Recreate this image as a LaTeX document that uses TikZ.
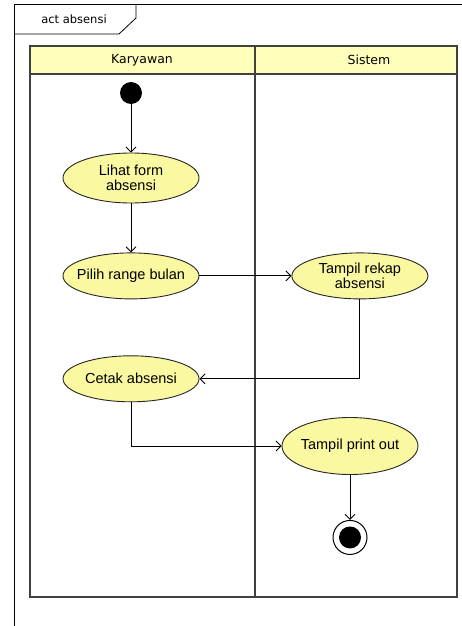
\documentclass[tikz,border=0pt]{standalone}
\usepackage{fontspec}
\setmainfont{Liberation Sans}
\newfontfamily\lanefont{DejaVu Sans}
\usetikzlibrary{arrows.meta,positioning,shapes.geometric}
\definecolor{actfill}{RGB}{250,248,160}
\definecolor{headfill}{RGB}{255,255,188}

\begin{document}
\begin{tikzpicture}[
  x=1pt, y=-1pt,
  action/.style={draw=black!85, fill=actfill, ellipse, line width=0.9pt, align=center, minimum width=136pt, minimum height=46pt, inner xsep=-14pt, inner ysep=0pt, font=\fontsize{14.5}{15}\selectfont},
  lane/.style={draw=black!75, line width=1.3pt},
  lanetext/.style={font=\lanefont\fontsize{12.5}{14}\selectfont},
  startnode/.style={circle, fill=black, minimum size=22pt, inner sep=0pt},
  stopnode/.style={circle, draw, fill=white, line width=1pt, minimum size=34pt, inner sep=0pt},
  arrow/.style={-{Straight Barb[length=5pt,width=10pt]}, line width=0.9pt}
]
\useasboundingbox (0,0) rectangle (462,626);

% frame and tag
\draw[line width=1pt] (14,626) -- (14,5) -- (462,5);
\draw[line width=0.8pt] (14,34) -- (119,34) -- (136,18) -- (136,5);
\node[lanetext, font=\lanefont\fontsize{11.5}{13}\selectfont] (tag) at (74,19) {act absensi};

% swimlanes
\filldraw[lane, fill=headfill] (30,46) rectangle (457,74);
\draw[lane] (30,46) rectangle (457,597);
\draw[lane] (255,46) -- (255,597);
\node[lanetext] (karyawan) at (142,60) {Karyawan};
\node[lanetext] (sistem) at (369,60) {Sistem};

% actions
\node[startnode] (start) at (131,93) {};
\node[action, minimum height=50pt] (lihat) at (131,178) {Lihat form\\absensi};
\node[action, below=49pt of lihat] (pilih) {Pilih range bulan};
\node[action, right=92pt of pilih] (rekap) {Tampil rekap\\absensi};
\node[action, below=56pt of pilih] (cetak) {Cetak absensi};
\node[action, minimum height=57pt] (print) at (350,446) {Tampil print out};
\node[stopnode, below=45pt of print] (stop) {};
\fill (stop.center) circle (11pt);

\draw[arrow] (start) -- (lihat);
\draw[arrow] (lihat) -- (pilih);
\draw[arrow] (pilih) -- (rekap);
\draw[arrow] (rekap) |- (cetak);
\draw[arrow] (cetak) |- (print);
\draw[arrow] (print) -- (stop);

\end{tikzpicture}
\end{document}
